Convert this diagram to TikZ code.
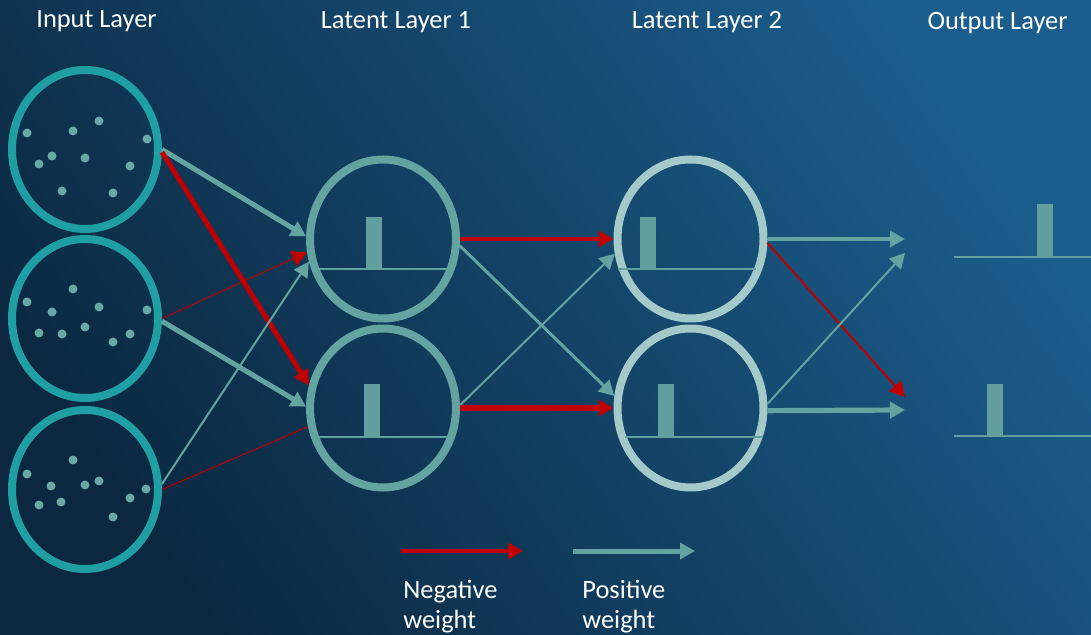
\documentclass[tikz,border=0pt]{standalone}
\usepackage{fontspec}
\setmainfont{Carlito}
\usepackage{tikz}
\usetikzlibrary{arrows,arrows.meta,positioning,shapes.geometric}
\usepackage{color}

\definecolor{bgdark}{HTML}{0B2840}
\definecolor{bglight}{HTML}{1B5D8C}
\definecolor{inring}{HTML}{1F9EA3}
\definecolor{latring}{HTML}{63A3A0}
\definecolor{latlight}{HTML}{A3C9C8}
\definecolor{dotcol}{HTML}{68A9A6}
\definecolor{barcol}{HTML}{63A09D}
\definecolor{poscol}{HTML}{63A3A0}
\definecolor{negcol}{HTML}{C00000}

\begin{document}
\begin{tikzpicture}[
		x=0.5pt, y=-0.5pt,
		>={Triangle[length=7.5pt,width=8pt]},
		font=\fontsize{13.2}{15}\selectfont,
		cell/.style={
			ellipse,
			draw,
			line width=4pt,
			minimum width=73pt,
			minimum height=79.5pt,
			inner sep=0pt
		},
		title/.style={
			text=white,
			inner sep=0pt,
			anchor=base
		},
		legend/.style={
			text=white,
			inner sep=0pt,
			anchor=north west,
			align=left
		},
		posw/.style={draw=poscol, ->},
		negw/.style={draw=negcol, ->}
		]
		% background
		\shade[top color=bglight, bottom color=bgdark, shading angle=-55] (0,0) rectangle (1091,635);
		\useasboundingbox (0,0) rectangle (1091,635);
		
		% layer titles
		\node [title] (tin) at (96.5,28) {Input Layer};
		\node [title] (tlat1) at (396,29) {Latent Layer 1};
		\node [title] (tlat2) at (707,29) {Latent Layer 2};
		\node [title] (tout) at (997.5,30) {Output Layer};
		
		% We start by placing the cells
		\node [cell, draw=inring] (inp1) at (85,149.5) {};
		\node [cell, draw=inring, below=1pt of inp1] (inp2) {};
		\node [cell, draw=inring, below=2pt of inp2] (inp3) {};
		
		\node [cell, draw=latring] (lat1a) at (383,239) {};
		\node [cell, draw=latring, below=1pt of lat1a] (lat1b) {};
		
		\node [cell, draw=latlight, right=76.75pt of lat1a] (lat2a) {};
		\node [cell, draw=latlight, below=1pt of lat2a] (lat2b) {};
		
		% free ends at the output layer
		\coordinate (outA) at (905,239);
		\coordinate (outA2) at (905,253);
		\coordinate (outB2) at (905,397);
		\coordinate (outB) at (905,410);
		
		% input points
		\foreach \x/\y in {27/133,73/131,99/121,147/139,52/156,39/164,85/158,130/166,62/191,113/193,
			27/302,73/289,52/312,99/307,147/310,39/333,62/334,85/327,113/342,130/334,
			73/460,27/474,51/486,85/485,99/481,146/489,39/505,61/502,130/498,113/517}
		\fill [dotcol] (\x,\y) circle (2.25pt);
		
		% spikes
		\fill [barcol] (366,217) rectangle (382,269);
		\fill [barcol] (364,384) rectangle (380,437);
		\fill [barcol] (640,217) rectangle (656,269);
		\fill [barcol] (658,384) rectangle (674,437);
		\fill [barcol] (1037,204) rectangle (1053,257);
		\fill [barcol] (987,384) rectangle (1003,436);
		\draw [barcol, line width=0.7pt] (317,269) -- (448,269);
		\draw [barcol, line width=0.7pt] (317,437) -- (448,437);
		\draw [barcol, line width=0.7pt] (618,269) -- (756,269);
		\draw [barcol, line width=0.7pt] (625,437) -- (763,437);
		\draw [barcol, line width=0.7pt] (954,257) -- (1091,257);
		\draw [barcol, line width=0.7pt] (954,436) -- (1091,436);
		
		% weights
		\draw [posw, line width=2.5pt] (inp1.east) -- (lat1a.178);
		\draw [negw, line width=2.5pt] (inp1.358) -- (lat1b.163);
		\draw [negw, line width=0.5pt] (inp2.east) -- (lat1a.190);
		\draw [posw, line width=2.5pt] (inp2.358) -- (lat1b.179);
		\draw [posw, line width=1pt] (inp3.4) -- (lat1a.197);
		\draw [draw=negcol, line width=0.5pt] (inp3.east) -- (lat1b.194);
		
		\draw [negw, line width=1.75pt] (lat1a.east) -- (lat2a.west);
		\draw [posw, line width=1.5pt] (lat1a.355) -- (lat2b.171);
		\draw [posw, line width=1pt] (lat1b.2) -- (lat2a.191);
		\draw [negw, line width=2.8pt] (lat1b.east) -- (lat2b.west);
		
		\draw [posw, line width=1.8pt] (lat2a.east) -- (outA);
		\draw [negw, line width=1pt] (lat2a.357) -- (outB2);
		\draw [posw, line width=1pt] (lat2b.3) -- (outA2);
		\draw [posw, line width=2.6pt] (lat2b.358) -- (outB);
		
		% legend
		\coordinate (negL) at (401,551);
		\coordinate (negR) at (523,551);
		\coordinate (posL) at (573,551);
		\coordinate (posR) at (695,551);
		\draw [negw, line width=2pt] (negL) -- (negR);
		\draw [posw, line width=2.5pt] (posL) -- (posR);
		\node [legend] (lneg) at (403,580) {Negative\\weight};
		\node [legend] (lpos) at (582,580) {Positive\\weight};
		
		\end{tikzpicture}
\end{document}
